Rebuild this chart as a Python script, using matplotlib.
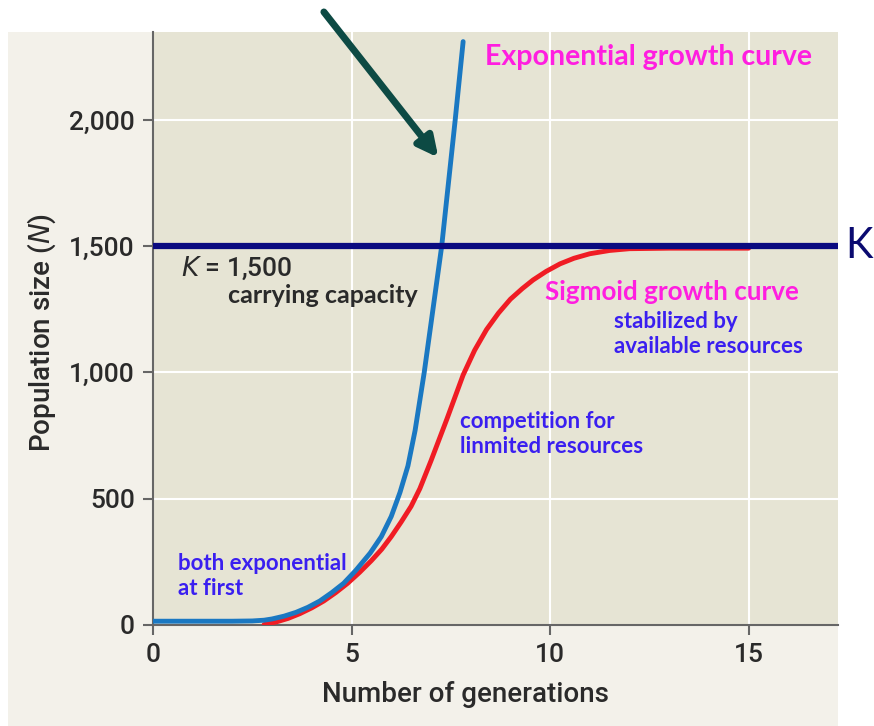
import numpy as np
import matplotlib
matplotlib.use('Agg')
import matplotlib.pyplot as plt
from matplotlib.patches import Rectangle
#
# data
#
exp_x = [0, 1, 2, 2.5, 2.8, 3.0, 3.3, 3.6, 3.9, 4.2, 4.5, 4.8, 5.1, 5.47, 5.75, 6.0, 6.22,
         6.42, 6.6, 6.83, 7.05, 7.27, 7.44, 7.61, 7.81]
exp_n = [15, 15, 15, 16, 19, 24, 35, 50, 70, 95, 128, 165, 215, 285, 350, 430, 525,
         630, 770, 1000, 1250, 1500, 1750, 2000, 2310]
sig_x = [2.8, 3.1, 3.4, 3.7, 4.0, 4.3, 4.6, 4.9, 5.2, 5.5, 5.76, 6.0, 6.25, 6.5, 6.72, 7.0,
         7.4, 7.81, 8.1, 8.4, 8.7, 9.0, 9.3, 9.57, 9.9, 10.25, 10.6, 11.0, 11.5, 12.0, 13.0, 15.0]
sig_n = [2, 12, 26, 45, 68, 95, 128, 165, 208, 255, 300, 350, 408, 470, 540, 650,
         815, 990, 1088, 1170, 1235, 1290, 1332, 1366, 1400, 1430, 1452, 1470, 1483, 1490, 1492, 1492]
K = 1500
xticks = [0, 5, 10, 15]
yticks = [0, 500, 1000, 1500, 2000]
ytick_labels = ['0', '500', '1,000', '1,500', '2,000']
#
# figure
#
W, H = 874, 726
fig = plt.figure(figsize=(W/100, H/100), dpi=100)
panel = Rectangle((8/W, 0), (838-8)/W, (H-32)/H, transform=fig.transFigure,
                  facecolor='#f3f1ea', edgecolor='none', zorder=-5)
fig.patches.append(panel)
ax = fig.add_axes([153/W, (H-625)/H, (838-153)/W, (625-32)/H])
ax.set_facecolor('#e6e4d4')
ax.set_xlim(0, 17.25)
ax.set_ylim(0, 2348)

ax.grid(True, color='white', lw=1.5, zorder=0)
ax.set_axisbelow(True)
for s in ['top', 'right']:
  ax.spines[s].set_visible(False)
for s in ['left', 'bottom']:
  ax.spines[s].set_color('#666666')
  ax.spines[s].set_linewidth(1.5)

sans = 'Roboto'
cal = 'Lato'
dark = '#2a2a2a'
ax.set_xticks(xticks)
ax.set_yticks(yticks)
ax.set_yticklabels(ytick_labels)
ax.tick_params(axis='both', length=7, width=1.5, color='#666666', labelsize=19,
               labelcolor=dark, pad=6)
for lab in ax.get_xticklabels() + ax.get_yticklabels():
  lab.set_family(sans)
  lab.set_weight('medium')
fig.text(466/W, 1-695/H, 'Number of generations', fontsize=20, family=sans, weight='medium',
         color=dark, ha='center', va='center')
fig.text(42/W, 1-333/H, 'Population size ($\\mathit{N}$)', fontsize=20, family=sans,
         weight='medium', color=dark, ha='center', va='center', rotation=90)

# curves
ax.plot(sig_x, sig_n, color='#f01c24', lw=3.5, solid_capstyle='round', solid_joinstyle='round', zorder=3)
ax.plot(exp_x, exp_n, color='#1a78c2', lw=3.5, solid_capstyle='round', solid_joinstyle='round', zorder=4)
ax.axhline(K, color='#0a0a80', lw=4.5, solid_capstyle='round', zorder=5)
ax.text(1.01, K, 'K', transform=ax.get_yaxis_transform(), fontsize=30, family=cal,
        color='#0a0a70', va='center', ha='left', clip_on=False)

# arrow
ax.annotate('', xy=(7.23, 1842), xytext=(4.26, 2436), annotation_clip=False,
            arrowprops=dict(arrowstyle='-|>', color='#0d4a44', lw=5, mutation_scale=30,
                            capstyle='round'))

# labels
mag = '#ff1ee0'
blu = '#3a1ff0'
ax.text(8.35, 2250, 'Exponential growth curve', color=mag, fontsize=20.5, family=cal,
        weight='bold', va='center')
ax.text(0.7, 1414, '$\\mathit{K}$ = 1,500', color=dark, fontsize=19, family=sans,
        weight='medium', va='center')
ax.text(1.9, 1303, 'carrying capacity', color=dark, fontsize=18, family=cal,
        weight='bold', va='center')
ax.text(9.87, 1319, 'Sigmoid growth curve', color=mag, fontsize=18.7, family=cal,
        weight='bold', va='center')
ax.text(11.6, 1152, 'stabilized by\navailable resources', color=blu, fontsize=16, family=cal,
        weight='bold', va='center', linespacing=1.25)
ax.text(7.73, 756, 'competition for\nlinmited resources', color=blu, fontsize=16, family=cal,
        weight='bold', va='center', linespacing=1.25)
ax.text(0.63, 194, 'both exponential\nat first', color=blu, fontsize=16, family=cal,
        weight='bold', va='center', linespacing=1.25)

fig.savefig('out.png', dpi=100)
